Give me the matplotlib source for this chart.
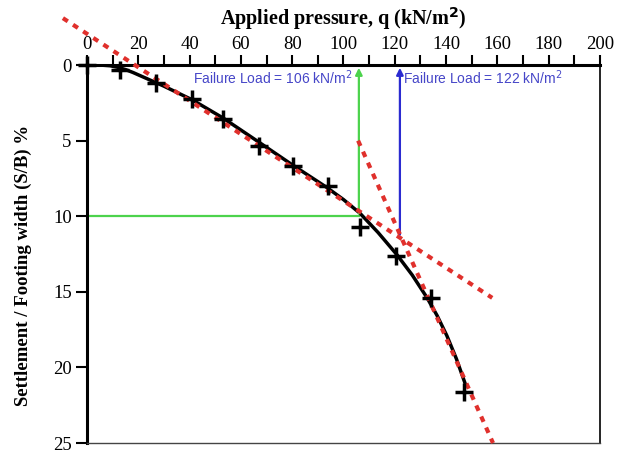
import matplotlib
matplotlib.use('Agg')
import matplotlib.pyplot as plt
import numpy as np

# measured points (+ markers)
q_pts = [0, 12.9, 27, 41, 53, 67, 80.3, 94, 106.6, 120.3, 134, 147]
s_pts = [0, 0.33, 1.2, 2.25, 3.6, 5.35, 6.7, 8.0, 10.7, 12.6, 15.4, 21.6]

# smooth load-settlement curve
q_curve = [0, 5, 9, 12, 15, 18, 22, 26, 30, 41, 53, 67, 80, 93.5, 100, 106.4, 113.5, 120.8,
           126.8, 132.5, 136.5, 140.3, 144, 147.4]
s_curve = [0, 0.0, 0.05, 0.15, 0.3, 0.5, 0.8, 1.1, 1.4, 2.3, 3.5, 5.1, 6.6, 8.1, 8.9, 9.8, 11.08, 12.54,
           13.89, 15.37, 16.57, 17.9, 19.42, 21.05]

# tangent lines
tan1_q = [-9.4, 158]
tan1_s = [-3.1, 15.4]
tan2_q = [105.7, 158.3]
tan2_s = [5.0, 25.0]

fail_1 = 106
fail_2 = 122
fail_2_s = 11.4

plt.rcParams['font.family'] = ['Liberation Serif', 'DejaVu Serif']

fig = plt.figure(figsize=(6.18, 4.54), dpi=100)
ax = fig.add_axes([0.1408, 0.0242, 0.830, 0.8326])

red = '#e0302c'
ax.plot(q_curve, s_curve, color='black', lw=2.5, zorder=3)
ax.plot(tan1_q, tan1_s, color=red, lw=3, dashes=(1.4, 1.5), clip_on=False, zorder=4)
ax.plot(tan2_q, tan2_s, color=red, lw=3, dashes=(1.4, 1.5), clip_on=False, zorder=4)
ax.plot(q_pts, s_pts, '+', color='black', ms=13, mew=2.5, zorder=5, clip_on=False)

# green construction
ax.plot([0, fail_1], [10, 10], color='#4cd34c', lw=1.6, zorder=2)
ax.annotate('', xy=(fail_1, 0), xytext=(fail_1, 10),
            arrowprops=dict(arrowstyle='-|>', color='#4cd34c', lw=1.6, mutation_scale=10))
ax.annotate('', xy=(fail_2, 0), xytext=(fail_2, fail_2_s),
            arrowprops=dict(arrowstyle='-|>', color='#2b2bd0', lw=1.6, mutation_scale=10))

ax.text(103.7, 0.85, 'Failure Load = 106 kN/m$^2$', color='#4646c8', fontsize=10,
        family=['Liberation Sans', 'DejaVu Sans'], ha='right', va='center')
ax.text(123.2, 0.85, 'Failure Load = 122 kN/m$^2$', color='#4646c8', fontsize=10,
        family=['Liberation Sans', 'DejaVu Sans'], ha='left', va='center')

ax.set_xlim(0, 200)
ax.set_ylim(25, 0)
ax.xaxis.tick_top()
ax.xaxis.set_label_position('top')
ax.set_xticks(np.arange(0, 201, 20))
ax.set_xticks(np.arange(0, 201, 10), minor=True)
ax.set_yticks(np.arange(0, 26, 5))
ax.tick_params(axis='x', which='major', direction='out', length=7, width=1.5, labelsize=13.5, pad=2)
ax.tick_params(axis='x', which='minor', direction='out', length=7, width=1.5)
ax.tick_params(axis='y', direction='out', length=8, width=1.5, labelsize=13.5, pad=3)

ax.spines['left'].set_linewidth(2.2)
ax.spines['top'].set_linewidth(2.2)
ax.spines['right'].set_linewidth(1.2)
ax.spines['bottom'].set_linewidth(1.0)
ax.spines['bottom'].set_color('#444444')

ax.set_xlabel('Applied pressure, q (kN/m$^{\\mathbf{2}}$)', fontsize=14.5, fontweight='bold', labelpad=8)
ax.set_ylabel('Settlement / Footing width (S/B) %', fontsize=13.5, fontweight='bold')
ax.yaxis.set_label_coords(-0.108, 0.47)

plt.savefig('out.png', dpi=100)
